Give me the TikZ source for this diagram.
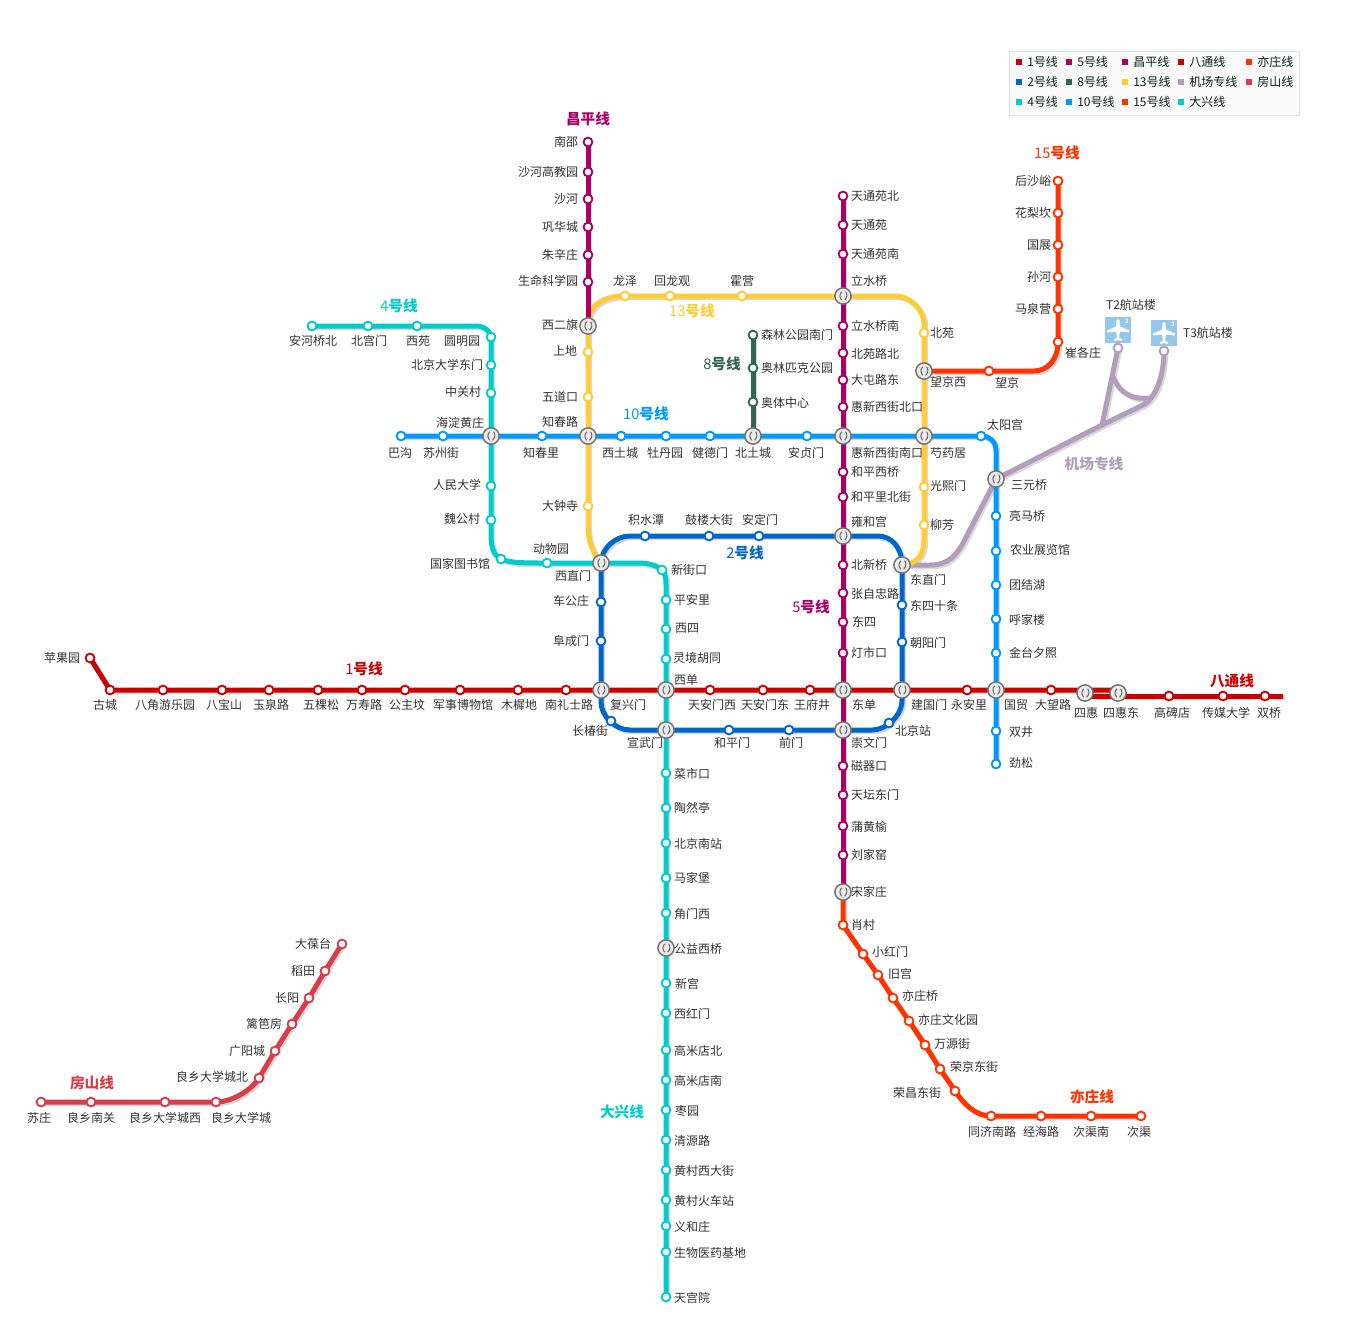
\documentclass[tikz,border=0pt]{standalone}
\usepackage{fontspec}
\setmainfont{Noto Sans CJK SC}
\pgfdeclarelayer{shadowlayer}
\pgfdeclarelayer{linelayer}
\pgfsetlayers{shadowlayer,linelayer,main}
\definecolor{cOne}{HTML}{CC0000}
\definecolor{cTwo}{HTML}{0066CC}
\definecolor{cFour}{HTML}{00CCCC}
\definecolor{cFive}{HTML}{AA0066}
\definecolor{cEight}{HTML}{336655}
\definecolor{cTen}{HTML}{0099FF}
\definecolor{cThirt}{HTML}{FFCC33}
\definecolor{cFift}{HTML}{FF3300}
\definecolor{cAir}{HTML}{B39DBB}
\definecolor{cFang}{HTML}{D93D4A}
\definecolor{cText}{HTML}{333333}
\definecolor{cShadow}{HTML}{D8D8D8}
\definecolor{cAirBlue}{HTML}{94C6EE}
\tikzset{
  lbl/.style={font=\fontsize{9}{9}\selectfont,text=cText,inner sep=0pt},
  stn/.style={circle,fill=white,line width=1.4pt,minimum size=6.6pt,inner sep=0pt},
  xfer/.style={circle,fill=white!92!black,draw=black!55,line width=1.1pt,minimum size=12.2pt,inner sep=0pt,
    path picture={
      \draw[black!60,line width=.75pt] ([xshift=-.8pt,yshift=3.2pt]path picture bounding box.center) .. controls +(-2.2pt,-2pt) and +(-1.6pt,2pt) .. ([xshift=-1pt,yshift=-3.2pt]path picture bounding box.center);
      \draw[black!60,line width=.75pt] ([xshift=2pt,yshift=3.2pt]path picture bounding box.center) .. controls +(1.4pt,-2pt) and +(2pt,2pt) .. ([xshift=1.2pt,yshift=-3.2pt]path picture bounding box.center);
    }},
  mline/.style={line width=3.75pt,line join=round},
  shadowline/.style={line width=3.75pt,line join=round,draw=cShadow},
  lname/.style={font=\fontsize{11}{11}\selectfont\bfseries,inner sep=0pt},
  legbox/.style={draw=black!12,fill=black!2,line width=.75pt,inner sep=0pt},
  legsq/.style={minimum size=4.5pt,inner sep=0pt},
  legtxt/.style={font=\fontsize{9}{9}\selectfont,text=black!70!cEight,inner sep=0pt,anchor=west},
  plane/.style={fill=white,draw=none},
}
\newcommand\stnode[7]{\node[stn,draw=#4] (#1) at (#2,#3) {};\node[lbl] (#1-t) at (#5,#6) {#7};}
\newcommand\xfnode[6]{\node[xfer] (#1) at (#2,#3) {};\node[lbl] (#1-t) at (#4,#5) {#6};}
\newcommand\mln[3][]{%
  \begin{pgfonlayer}{shadowlayer}\draw[shadowline,#1,transform canvas={xshift=1.3pt,yshift=-1.3pt}] #3;\end{pgfonlayer}%
  \begin{pgfonlayer}{linelayer}\draw[mline,draw=#2,#1] #3;\end{pgfonlayer}}
\newcommand\lnm[5]{\node[lname,text=#2] (#1) at (#3,#4) {#5};}
\newcommand\leg[5]{\node[legsq,fill=#4] (#1-s) at (#2,#3) {};\node[legtxt] (#1-t) at (#2+8,#3) {#5};}
\newcommand\apt[5]{%
  \node[fill=cAirBlue,minimum size=19.5pt,inner sep=0pt] (#1) at (#2,#3) {};
  \fill[plane] (#2,#3) ++(0,-11) -- ++(1.5,1.5) -- ++(.5,6) -- ++(9,4) -- ++(0,2) -- ++(-9,-1) -- ++(-1,6) -- ++(3,2) -- ++(0,1.5) -- ++(-4,-1) -- ++(-4,1) -- ++(0,-1.5) -- ++(3,-2) -- ++(-1,-6) -- ++(-9,1) -- ++(0,-2) -- ++(9,-4) -- ++(.5,-6) -- cycle;
  \node[font=\fontsize{4.5}{4.5}\selectfont\bfseries,text=white!85!cAirBlue,inner sep=0pt] (#1-n) at (#2+9,#3-9) {#4};
  \node[lbl] (#1-t) at #5;}
\begin{document}
\begin{tikzpicture}[x=0.75pt,y=-0.75pt]
\path[use as bounding box] (0,0) rectangle (1348,1328);
\begin{pgfonlayer}{shadowlayer}\fill[white] (0,0) rectangle (1348,1328);\end{pgfonlayer}

% legend
\node[legbox,minimum width=218pt,minimum height=48.5pt] (legend) at (1154.5,83.5) {};
\leg{la}{1019}{62}{cOne}{1号线}\leg{lb}{1069}{62}{cFive}{5号线}\leg{lc}{1125}{62}{cFive}{昌平线}\leg{ld}{1181}{62}{cOne}{八通线}\leg{le}{1249}{62}{cFift}{亦庄线}
\leg{lf}{1019}{82}{cTwo}{2号线}\leg{lg}{1069}{82}{cEight}{8号线}\leg{lh}{1125}{82}{cThirt}{13号线}\leg{li}{1181}{82}{cAir}{机场专线}\leg{lj}{1249}{82}{cFang}{房山线}
\leg{lk}{1019}{102}{cFour}{4号线}\leg{ll}{1069}{102}{cTen}{10号线}\leg{lm}{1125}{102}{cFift}{15号线}\leg{ln}{1181}{102}{cFour}{大兴线}

% interchange stations
\xfnode{xeq}{588}{326}{560}{325}{西二旗}
\xfnode{lsq}{843}{296}{869}{281}{立水桥}
\xfnode{wjx}{924}{371}{948}{382}{望京西}
\xfnode{hdhz}{491}{436}{460}{423}{海淀黄庄}
\xfnode{zcl}{588}{436}{560}{422}{知春路}
\xfnode{btc}{753}{436}{753}{453}{北土城}
\xfnode{hxn}{843}{436}{887}{453}{惠新西街南口}
\xfnode{syj}{924}{436}{948}{453}{芍药居}
\xfnode{syq}{996}{479}{1029}{485}{三元桥}
\xfnode{yhg}{843}{536}{869}{522}{雍和宫}
\xfnode{dzm}{902}{565}{928}{580}{东直门}
\xfnode{xzm}{601}{563}{573}{576}{西直门}
\xfnode{fxm}{601}{690}{628}{705}{复兴门}
\xfnode{xd}{666}{690}{686}{680}{西单}
\xfnode{dd}{843}{690}{864}{705}{东单}
\xfnode{jgm}{902}{690}{929}{705}{建国门}
\xfnode{gm}{996}{690}{1016}{705}{国贸}
\xfnode{xwm}{666}{730}{645}{743}{宣武门}
\xfnode{cwm}{843}{730}{869}{743}{崇文门}
\xfnode{sjz}{843}{892}{869}{892}{宋家庄}
\xfnode{sh}{1085}{693}{1086}{713}{四惠}
\xfnode{shd}{1118}{693}{1121}{713}{四惠东}
\xfnode{gyxq}{666}{948}{698}{949}{公益西桥}

% line 1
\stnode{pgy}{90}{658}{cOne}{62}{658}{苹果园}
\stnode{gc}{110}{690}{cOne}{105}{705}{古城}
\stnode{bjy}{163}{690}{cOne}{165}{705}{八角游乐园}
\stnode{bbs}{222}{690}{cOne}{224}{705}{八宝山}
\stnode{yql}{269}{690}{cOne}{271}{705}{玉泉路}
\stnode{wks}{318}{690}{cOne}{321}{705}{五棵松}
\stnode{wsl}{362}{690}{cOne}{364}{705}{万寿路}
\stnode{gzf}{405}{690}{cOne}{407}{705}{公主坟}
\stnode{jsbwg}{460}{690}{cOne}{463}{705}{军事博物馆}
\stnode{mxd}{518}{690}{cOne}{519}{705}{木樨地}
\stnode{nlsl}{566}{690}{cOne}{569}{705}{南礼士路}
\stnode{tamx}{710}{690}{cOne}{712}{705}{天安门西}
\stnode{tamd}{763}{690}{cOne}{765}{705}{天安门东}
\stnode{wfj}{810}{690}{cOne}{812}{705}{王府井}
\stnode{yal}{967}{690}{cOne}{969}{705}{永安里}
\stnode{dwl}{1051}{690}{cOne}{1053}{705}{大望路}
\stnode{gbd}{1169}{696}{cOne}{1172}{713}{高碑店}
\stnode{cmdx}{1223}{696}{cOne}{1226}{713}{传媒大学}
\stnode{sq}{1265}{696}{cOne}{1269}{713}{双桥}
\coordinate (oneend) at (1118,690);
\coordinate (bts) at (1085,696);
\coordinate (bte) at (1283,696);

% line 2
\stnode{jst}{645}{536}{cTwo}{646}{520}{积水潭}
\stnode{gldj}{709}{536}{cTwo}{709}{520}{鼓楼大街}
\stnode{adm}{759}{536}{cTwo}{760}{520}{安定门}
\stnode{dsst}{902}{605}{cTwo}{934}{606}{东四十条}
\stnode{cym}{902}{642}{cTwo}{928}{643}{朝阳门}
\stnode{bjz}{889}{723}{cTwo}{913}{731}{北京站}
\stnode{qm}{789}{730}{cTwo}{791}{743}{前门}
\stnode{hpm}{729}{730}{cTwo}{732}{743}{和平门}
\stnode{ccj}{611}{721}{cTwo}{590}{731}{长椿街}
\stnode{fcm}{601}{641}{cTwo}{571}{641}{阜成门}
\stnode{cgz}{601}{602}{cTwo}{571}{601}{车公庄}
\coordinate (twoa) at (630,536);
\coordinate (twob) at (878,536);
\coordinate (twoc) at (902,700);
\coordinate (twod) at (872,730);
\coordinate (twoe) at (630,730);
\coordinate (twof) at (601,702);

% line 4 and Daxing
\stnode{ahqb}{312}{326}{cFour}{313}{341}{安河桥北}
\stnode{bgm}{368}{326}{cFour}{369}{341}{北宫门}
\stnode{xy}{417}{326}{cFour}{418}{341}{西苑}
\stnode{ymy}{491}{337}{cFour}{462}{341}{圆明园}
\stnode{bddm}{491}{365}{cFour}{447}{365}{北京大学东门}
\stnode{zgc}{491}{393}{cFour}{463}{392}{中关村}
\stnode{rmdx}{491}{486}{cFour}{457}{485}{人民大学}
\stnode{wgc}{491}{520}{cFour}{462}{519}{魏公村}
\stnode{gjtsg}{501}{559}{cFour}{460}{564}{国家图书馆}
\stnode{dwy}{547}{563}{cFour}{551}{549}{动物园}
\stnode{xjk}{662}{570}{cFour}{689}{570}{新街口}
\stnode{pal}{666}{600}{cFour}{692}{600}{平安里}
\stnode{xs}{666}{629}{cFour}{687}{628}{西四}
\stnode{ljht}{666}{659}{cFour}{697}{658}{灵境胡同}
\stnode{csk}{666}{773}{cFour}{692}{774}{菜市口}
\stnode{trt}{666}{808}{cFour}{692}{808}{陶然亭}
\stnode{bjnz}{666}{843}{cFour}{698}{844}{北京南站}
\stnode{mjp}{666}{878}{cFour}{692}{878}{马家堡}
\stnode{jmx}{666}{913}{cFour}{692}{914}{角门西}
\stnode{xg}{666}{983}{cFour}{687}{984}{新宫}
\stnode{xhm2}{666}{1013}{cFour}{692}{1014}{西红门}
\stnode{gmdb}{666}{1050}{cFour}{698}{1051}{高米店北}
\stnode{gmdn}{666}{1080}{cFour}{698}{1081}{高米店南}
\stnode{zy}{666}{1110}{cFour}{687}{1111}{枣园}
\stnode{qyl}{666}{1140}{cFour}{692}{1141}{清源路}
\stnode{hcxdj}{666}{1170}{cFour}{704}{1171}{黄村西大街}
\stnode{hchcz}{666}{1200}{cFour}{704}{1201}{黄村火车站}
\stnode{yhz}{666}{1226}{cFour}{692}{1227}{义和庄}
\stnode{swyyjd}{666}{1252}{cFour}{710}{1253}{生物医药基地}
\stnode{tgy}{666}{1297}{cFour}{692}{1298}{天宫院}
\coordinate (foura) at (491,535);
\coordinate (fourb) at (638,563);
\coordinate (fourc) at (666,585);
\coordinate (fourd) at (476,326);

% line 5
\stnode{ttyb}{843}{196}{cFive}{875}{196}{天通苑北}
\stnode{tty}{843}{225}{cFive}{869}{225}{天通苑}
\stnode{ttyn}{843}{254}{cFive}{875}{254}{天通苑南}
\stnode{lsqn}{843}{326}{cFive}{875}{326}{立水桥南}
\stnode{bylb}{843}{353}{cFive}{875}{354}{北苑路北}
\stnode{dtld}{843}{380}{cFive}{875}{380}{大屯路东}
\stnode{hxb}{843}{407}{cFive}{887}{407}{惠新西街北口}
\stnode{hpxq}{843}{472}{cFive}{875}{472}{和平西桥}
\stnode{hplbj}{843}{497}{cFive}{881}{497}{和平里北街}
\stnode{bxq}{843}{565}{cFive}{869}{565}{北新桥}
\stnode{zzzl}{843}{593}{cFive}{875}{594}{张自忠路}
\stnode{ds}{843}{622}{cFive}{864}{622}{东四}
\stnode{dsk}{843}{653}{cFive}{869}{653}{灯市口}
\stnode{cqk}{843}{766}{cFive}{869}{766}{磁器口}
\stnode{ttdm}{843}{795}{cFive}{875}{795}{天坛东门}
\stnode{phy}{843}{826}{cFive}{869}{827}{蒲黄榆}
\stnode{ljy}{843}{855}{cFive}{869}{855}{刘家窑}

% Changping
\stnode{ns}{588}{142}{cFive}{566}{142}{南邵}
\stnode{shgjy}{588}{172}{cFive}{548}{172}{沙河高教园}
\stnode{shh}{588}{199}{cFive}{566}{199}{沙河}
\stnode{ghc}{588}{227}{cFive}{560}{227}{巩华城}
\stnode{zxz}{588}{255}{cFive}{560}{255}{朱辛庄}
\stnode{smkxy}{588}{282}{cFive}{548}{281}{生命科学园}

% line 13
\stnode{dzs}{588}{506}{cThirt}{560}{506}{大钟寺}
\stnode{wdk}{588}{397}{cThirt}{560}{397}{五道口}
\stnode{sd}{588}{352}{cThirt}{565}{351}{上地}
\stnode{lz}{625}{296}{cThirt}{625}{281}{龙泽}
\stnode{hlg}{670}{296}{cThirt}{672}{281}{回龙观}
\stnode{hy}{742}{296}{cThirt}{742}{281}{霍营}
\stnode{by}{924}{333}{cThirt}{942}{333}{北苑}
\stnode{gxm}{924}{487}{cThirt}{948}{486}{光熙门}
\stnode{lf}{924}{525}{cThirt}{942}{525}{柳芳}
\coordinate (tha) at (588,530);
\coordinate (thb) at (924,540);
\coordinate (thc) at (588,323);
\coordinate (thd) at (896,296);
\coordinate (the) at (924,324);

% line 8
\stnode{slgy}{753}{335}{cEight}{797}{335}{森林公园南门}
\stnode{alpk}{753}{368}{cEight}{797}{368}{奥林匹克公园}
\stnode{atzx}{753}{402}{cEight}{785}{403}{奥体中心}

% line 10
\stnode{bg}{401}{436}{cTen}{400}{453}{巴沟}
\stnode{szj}{443}{436}{cTen}{441}{453}{苏州街}
\stnode{zcli}{542}{436}{cTen}{541}{453}{知春里}
\stnode{xtc}{621}{436}{cTen}{620}{453}{西土城}
\stnode{mdy}{666}{436}{cTen}{665}{453}{牡丹园}
\stnode{jdm}{710}{436}{cTen}{710}{453}{健德门}
\stnode{azm}{807}{436}{cTen}{806}{453}{安贞门}
\stnode{tyg}{981}{436}{cTen}{1005}{425}{太阳宫}
\stnode{lmq}{996}{516}{cTen}{1027}{516}{亮马桥}
\stnode{nyzlg}{996}{551}{cTen}{1040}{550}{农业展览馆}
\stnode{tjh}{996}{585}{cTen}{1027}{585}{团结湖}
\stnode{hjl}{996}{619}{cTen}{1027}{620}{呼家楼}
\stnode{jtxz}{996}{653}{cTen}{1033}{653}{金台夕照}
\stnode{sj}{996}{731}{cTen}{1021}{732}{双井}
\stnode{js}{996}{764}{cTen}{1021}{763}{劲松}
\coordinate (tenc) at (996,451);

% line 15
\stnode{hsy}{1058}{181}{cFift}{1033}{181}{后沙峪}
\stnode{hlk}{1058}{213}{cFift}{1033}{213}{花梨坎}
\stnode{gz}{1058}{245}{cFift}{1039}{245}{国展}
\stnode{sh2}{1058}{277}{cFift}{1039}{277}{孙河}
\stnode{mqy}{1058}{309}{cFift}{1033}{309}{马泉营}
\stnode{cgz2}{1058}{342}{cFift}{1083}{353}{崔各庄}
\stnode{wj}{989}{371}{cFift}{1007}{383}{望京}
\coordinate (fifc) at (1034,371);

% Yizhuang
\stnode{xc}{843}{925}{cFift}{863}{925}{肖村}
\stnode{xhm}{863}{954}{cFift}{890}{952}{小红门}
\stnode{jg}{878}{975}{cFift}{900}{974}{旧宫}
\stnode{yzq}{893}{998}{cFift}{920}{996}{亦庄桥}
\stnode{yzwhy}{909}{1021}{cFift}{948}{1020}{亦庄文化园}
\stnode{wyj}{925}{1045}{cFift}{952}{1044}{万源街}
\stnode{rjdj}{940}{1069}{cFift}{974}{1067}{荣京东街}
\stnode{rcdj}{955}{1091}{cFift}{917}{1093}{荣昌东街}
\stnode{tjnl}{991}{1116}{cFift}{992}{1132}{同济南路}
\stnode{jhl}{1041}{1116}{cFift}{1041}{1132}{经海路}
\stnode{cqn}{1091}{1116}{cFift}{1091}{1132}{次渠南}
\stnode{cq}{1141}{1116}{cFift}{1139}{1132}{次渠}

% Fangshan
\stnode{sz}{41}{1102}{cFang}{39}{1118}{苏庄}
\stnode{lxng}{91}{1102}{cFang}{91}{1118}{良乡南关}
\stnode{lxx}{165}{1102}{cFang}{165}{1118}{良乡大学城西}
\stnode{lxc}{216}{1102}{cFang}{241}{1118}{良乡大学城}
\stnode{lxb}{259}{1078}{cFang}{212}{1077}{良乡大学城北}
\stnode{gyc}{275}{1051}{cFang}{247}{1051}{广阳城}
\stnode{lbf}{292}{1024}{cFang}{264}{1024}{篱笆房}
\stnode{cy}{309}{998}{cFang}{287}{998}{长阳}
\stnode{dt}{325}{971}{cFang}{303}{971}{稻田}
\stnode{dbt}{342}{944}{cFang}{313}{944}{大葆台}

% airport
\apt{ptwo}{1118}{330}{2}{(1131,305) {T2航站楼}}
\apt{pthree}{1164}{333}{3}{(1208,333) {T3航站楼}}
\node[stn,draw=cAir] (tt) at (1118,348) {};
\node[stn,draw=cAir] (ts) at (1164,351) {};
\coordinate (aira) at (930,565);
\coordinate (airb) at (1102,425);
\coordinate (airc) at (1143,405);
\coordinate (aird) at (1112,375);
\coordinate (aire) at (1150,398);

% connectors
\mln{cAir}{(dzm.center) -- (aira) .. controls (948,565) and (955,556) .. (962,545) -- (syq.center)}
\mln{cAir}{(syq.center) -- (airb) -- (airc) .. controls (1156,398) and (1164,375) .. (ts.center)}
\mln{cAir}{(tt.center) -- (airb)}
\mln{cAir}{(aird) .. controls (1119,392) and (1130,400) .. (aire)}
\mln{cEight}{(slgy.center) -- (alpk.center) -- (atzx.center) -- (btc.center)}
\mln{cFift}{(wjx.center) -- (wj.center) -- (fifc) .. controls (1047,371) and (1058,360) .. (cgz2.center) -- (mqy.center) -- (sh2.center) -- (gz.center) -- (hlk.center) -- (hsy.center)}
\mln{cFift}{(sjz.center) -- (xc.center) -- (xhm.center) -- (jg.center) -- (yzq.center) -- (yzwhy.center) -- (wyj.center) -- (rjdj.center) -- (rcdj.center) .. controls (963,1103) and (975,1116) .. (tjnl.center) -- (jhl.center) -- (cqn.center) -- (cq.center)}
\mln{cFang}{(sz.center) -- (lxng.center) -- (lxx.center) -- (lxc.center) .. controls (231,1102) and (251,1091) .. (lxb.center) -- (gyc.center) -- (lbf.center) -- (cy.center) -- (dt.center) -- (dbt.center)}
\mln{cThirt}{(xzm.center) .. controls (593,553) and (589,543) .. (tha) -- (dzs.center) -- (zcl.center) -- (wdk.center) -- (sd.center) -- (xeq.center) -- (thc) .. controls (588,308) and (600,296) .. (lz.center) -- (hlg.center) -- (hy.center) -- (lsq.center) -- (thd) .. controls (909,296) and (924,309) .. (the) -- (by.center) -- (wjx.center) -- (syj.center) -- (gxm.center) -- (lf.center) -- (thb) .. controls (924,555) and (916,565) .. (dzm.center)}
\mln{cFive}{(ns.center) -- (shgjy.center) -- (shh.center) -- (ghc.center) -- (zxz.center) -- (smkxy.center) -- (xeq.center)}
\mln{cFive}{(ttyb.center) -- (tty.center) -- (ttyn.center) -- (lsq.center) -- (lsqn.center) -- (bylb.center) -- (dtld.center) -- (hxb.center) -- (hxn.center) -- (hpxq.center) -- (hplbj.center) -- (yhg.center) -- (bxq.center) -- (zzzl.center) -- (ds.center) -- (dsk.center) -- (dd.center) -- (cwm.center) -- (cqk.center) -- (ttdm.center) -- (phy.center) -- (ljy.center) -- (sjz.center)}
\mln{cTen}{(bg.center) -- (szj.center) -- (hdhz.center) -- (zcli.center) -- (zcl.center) -- (xtc.center) -- (mdy.center) -- (jdm.center) -- (btc.center) -- (azm.center) -- (hxn.center) -- (syj.center) -- (tyg.center) .. controls (990,436) and (996,442) .. (tenc) -- (syq.center) -- (lmq.center) -- (nyzlg.center) -- (tjh.center) -- (hjl.center) -- (jtxz.center) -- (gm.center) -- (sj.center) -- (js.center)}
\mln{cTwo}{(xzm.center) .. controls (601,549) and (615,536) .. (twoa) -- (jst.center) -- (gldj.center) -- (adm.center) -- (yhg.center) -- (twob) .. controls (891,536) and (902,547) .. (dzm.center) -- (dsst.center) -- (cym.center) -- (jgm.center) -- (twoc) .. controls (902,716) and (886,730) .. (twod) -- (cwm.center) -- (qm.center) -- (hpm.center) -- (xwm.center) -- (twoe) .. controls (615,730) and (601,716) .. (twof) -- (fxm.center) -- (fcm.center) -- (cgz.center) -- (xzm.center)}
\mln{cFour}{(ahqb.center) -- (bgm.center) -- (xy.center) -- (fourd) .. controls (485,326) and (491,332) .. (ymy.center) -- (bddm.center) -- (zgc.center) -- (hdhz.center) -- (rmdx.center) -- (wgc.center) -- (foura) .. controls (491,550) and (495,556) .. (gjtsg.center) .. controls (510,563) and (525,563) .. (dwy.center) -- (xzm.center) -- (fourb) .. controls (648,563) and (656,565) .. (xjk.center) .. controls (665,573) and (666,578) .. (fourc) -- (pal.center) -- (xs.center) -- (ljht.center) -- (xd.center) -- (xwm.center) -- (csk.center) -- (trt.center) -- (bjnz.center) -- (mjp.center) -- (jmx.center) -- (gyxq.center) -- (xg.center) -- (xhm2.center) -- (gmdb.center) -- (gmdn.center) -- (zy.center) -- (qyl.center) -- (hcxdj.center) -- (hchcz.center) -- (yhz.center) -- (swyyjd.center) -- (tgy.center)}
\mln{cOne}{(pgy.center) -- (gc.center) -- (bjy.center) -- (bbs.center) -- (yql.center) -- (wks.center) -- (wsl.center) -- (gzf.center) -- (jsbwg.center) -- (mxd.center) -- (nlsl.center) -- (fxm.center) -- (xd.center) -- (tamx.center) -- (tamd.center) -- (wfj.center) -- (dd.center) -- (jgm.center) -- (yal.center) -- (gm.center) -- (dwl.center) -- (oneend)}
\mln{cOne}{(bts) -- (gbd.center) -- (cmdx.center) -- (sq.center) -- (bte)}

% line names
\lnm{nCp}{cFive}{588}{119}{昌平线}
\lnm{nFour}{cFour}{399}{306}{{\mdseries 4}号线}
\lnm{nThirt}{cThirt}{692}{311}{{\mdseries 13}号线}
\lnm{nEight}{cEight}{722}{364}{{\mdseries 8}号线}
\lnm{nTen}{cTen}{646}{414}{{\mdseries 10}号线}
\lnm{nTwo}{cTwo}{745}{553}{{\mdseries 2}号线}
\lnm{nFive}{cFive}{811}{607}{{\mdseries 5}号线}
\lnm{nOne}{cOne}{364}{669}{{\mdseries 1}号线}
\lnm{nBt}{cOne}{1232}{681}{八通线}
\lnm{nFift}{cFift}{1057}{153}{{\mdseries 15}号线}
\lnm{nAir}{cAir}{1094}{464}{机场专线}
\lnm{nDx}{cFour}{622}{1112}{大兴线}
\lnm{nFs}{cFang}{92}{1083}{房山线}
\lnm{nYz}{cFift}{1092}{1097}{亦庄线}
\end{tikzpicture}
\end{document}
